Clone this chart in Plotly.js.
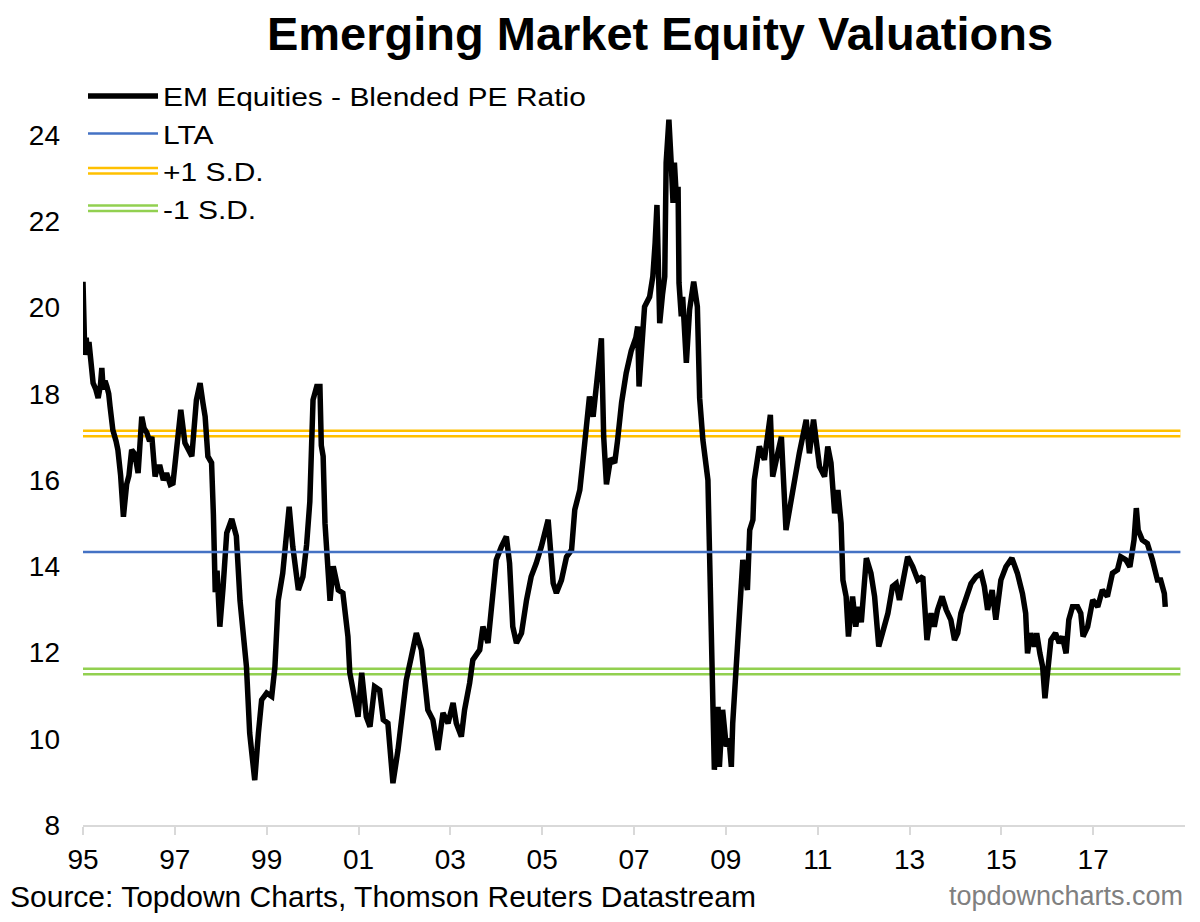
<!DOCTYPE html>
<html>
<head>
<meta charset="utf-8">
<script src="https://cdn.plot.ly/plotly-3.0.1.min.js"></script>
<style>
  html, body { margin: 0; padding: 0; background: #fff; }
  #chart { width: 1200px; height: 922px; }
</style>
</head>
<body>
<div id="chart"></div>
<script>
// ---- Data, decimal years ----
const dates = [
  1995.00, 1995.02, 1995.04, 1995.07, 1995.10, 1995.13, 1995.17, 1995.22, 1995.28, 1995.33, 1995.38, 1995.41, 1995.44, 1995.48, 1995.52, 1995.56, 1995.59, 1995.65, 1995.72, 1995.76, 1995.82, 1995.88, 1995.95,
  1996.00, 1996.06, 1996.13, 1996.20, 1996.28, 1996.33, 1996.39, 1996.45, 1996.50, 1996.57, 1996.62, 1996.68, 1996.75, 1996.82, 1996.90, 1996.96,
  1997.04, 1997.13, 1997.22, 1997.30, 1997.37, 1997.47, 1997.55, 1997.61, 1997.66, 1997.72, 1997.80, 1997.84, 1997.88, 1997.92, 1997.98,
  1998.05, 1998.13, 1998.24, 1998.34, 1998.42, 1998.49, 1998.56, 1998.63, 1998.74, 1998.82, 1998.89,
  1999.00, 1999.11, 1999.18, 1999.25, 1999.35, 1999.43, 1999.49, 1999.57, 1999.69, 1999.79, 1999.87, 1999.94,
  2000.01, 2000.09, 2000.16, 2000.19, 2000.23, 2000.27, 2000.30, 2000.38, 2000.45, 2000.56, 2000.66, 2000.77, 2000.81, 2000.92, 2000.99,
  2001.07, 2001.17, 2001.25, 2001.35, 2001.46, 2001.54, 2001.64, 2001.75, 2001.86, 2001.94,
  2002.04, 2002.15, 2002.26, 2002.37, 2002.44, 2002.51, 2002.62, 2002.73, 2002.84, 2002.95,
  2003.06, 2003.13, 2003.24, 2003.31, 2003.42, 2003.49, 2003.64, 2003.71, 2003.82, 2003.93,
  2004.00, 2004.11, 2004.22, 2004.29, 2004.36, 2004.44, 2004.55, 2004.66, 2004.76, 2004.87, 2004.98,
  2005.13, 2005.24, 2005.31, 2005.42, 2005.53, 2005.64, 2005.71, 2005.82, 2005.89, 2005.96,
  2006.03, 2006.11, 2006.18, 2006.25, 2006.29, 2006.34, 2006.40, 2006.49, 2006.58, 2006.64, 2006.73, 2006.83, 2006.94,
  2007.04, 2007.08, 2007.11, 2007.17, 2007.23, 2007.34, 2007.41, 2007.46, 2007.50, 2007.53, 2007.56, 2007.62, 2007.67, 2007.70, 2007.76, 2007.81, 2007.85, 2007.88, 2007.92, 2007.96, 2007.98,
  2008.03, 2008.06, 2008.14, 2008.21, 2008.30, 2008.38, 2008.43, 2008.50, 2008.61, 2008.65, 2008.68, 2008.75, 2008.83, 2008.86, 2008.93,
  2009.01, 2009.07, 2009.12, 2009.15, 2009.23, 2009.30, 2009.37, 2009.47, 2009.52, 2009.59, 2009.62, 2009.73, 2009.84, 2009.97,
  2010.02, 2010.13, 2010.21, 2010.31, 2010.42, 2010.49, 2010.60, 2010.75, 2010.82, 2010.91,
  2011.04, 2011.15, 2011.22, 2011.29, 2011.37, 2011.44, 2011.51, 2011.55, 2011.62, 2011.67, 2011.76, 2011.83, 2011.89, 2011.95,
  2012.06, 2012.16, 2012.24, 2012.33, 2012.42, 2012.53, 2012.63, 2012.71, 2012.78, 2012.87, 2012.96,
  2013.07, 2013.18, 2013.29, 2013.32, 2013.38, 2013.47, 2013.54, 2013.61, 2013.71, 2013.80, 2013.90, 2013.98,
  2014.05, 2014.12, 2014.23, 2014.34, 2014.45, 2014.56, 2014.63, 2014.70, 2014.80, 2014.88, 2014.99,
  2015.10, 2015.23, 2015.35, 2015.46, 2015.53, 2015.57, 2015.64, 2015.72, 2015.77, 2015.84, 2015.90, 2015.95,
  2016.01, 2016.08, 2016.18, 2016.26, 2016.33, 2016.41, 2016.47, 2016.55, 2016.66, 2016.73, 2016.78, 2016.88, 2016.99,
  2017.10, 2017.20, 2017.31, 2017.42, 2017.53, 2017.60, 2017.71, 2017.80, 2017.89, 2017.94, 2017.98,
  2018.07, 2018.18, 2018.29, 2018.40, 2018.47, 2018.55, 2018.57
];
const blendedPE = [
  20.6, 19.9, 18.9, 19.3, 18.9, 19.2, 18.8, 18.25, 18.1, 17.9, 18.2, 18.6, 18.1, 18.3, 18.17, 18.0, 17.7, 17.16, 16.9, 16.7, 16.1, 15.15, 15.9,
  16.1, 16.7, 16.6, 16.16, 17.47, 17.2, 17.1, 16.9, 17.0, 16.08, 16.3, 16.3, 16.0, 16.16, 15.9, 15.93,
  16.86, 17.63, 16.86, 16.7, 16.55, 17.86, 18.25, 17.8, 17.47, 16.55, 16.4, 15.2, 13.4, 13.9, 12.6,
  13.5, 14.77, 15.1, 14.7, 13.2, 12.3, 11.67, 10.13, 9.04, 10.13, 10.9,
  11.06, 10.98, 11.67, 13.2, 13.84, 14.77, 15.38, 14.45, 13.45, 13.76, 14.5, 15.5,
  17.86, 18.17, 18.17, 16.8, 16.55, 15.0, 14.38, 13.2, 14.0, 13.45, 13.38, 12.37, 11.53, 10.83, 10.51,
  11.53, 10.51, 10.28, 11.21, 11.13, 10.44, 10.36, 8.97, 9.74, 10.51,
  11.36, 11.9, 12.45, 12.06, 11.36, 10.67, 10.44, 9.74, 10.6, 10.36,
  10.83, 10.36, 10.05, 10.67, 11.29, 11.83, 12.06, 12.6, 12.22, 13.61,
  14.15, 14.45, 14.69, 14.07, 12.6, 12.22, 12.45, 13.22, 13.76, 14.07, 14.45,
  15.08, 13.61, 13.38, 13.68, 14.22, 14.38, 15.31, 15.77, 16.47, 17.32,
  17.94, 17.47, 18.17, 18.8, 19.29, 17.0, 15.9, 16.5, 16.4, 16.9, 17.8, 18.48, 19.0,
  19.3, 19.56, 18.17, 19.4, 20.02, 20.25, 20.72, 21.5, 22.38, 21.0, 19.64, 20.3, 20.72, 23.36, 24.36, 23.36, 22.43, 23.36, 22.6, 22.8, 20.57,
  19.8, 20.25, 18.72, 19.95, 20.6, 20.02, 17.9, 16.93, 16.0, 13.99, 11.67, 9.28, 10.74, 9.35, 10.67,
  9.82, 10.0, 9.35, 10.36, 11.83, 13.22, 14.15, 13.45, 14.84, 15.08, 16.0, 16.78, 16.47, 17.51,
  16.08, 16.62, 17.0, 14.84, 15.54, 15.85, 16.62, 17.4, 16.62, 17.4,
  16.31, 16.08, 16.78, 16.4, 15.23, 15.77, 15.0, 13.68, 13.3, 12.37, 13.3, 12.6, 13.06, 12.7,
  14.19, 13.84, 13.3, 12.14, 12.52, 12.91, 13.53, 13.6, 13.22, 13.76, 14.22,
  13.99, 13.68, 13.76, 13.37, 12.29, 12.91, 12.6, 12.99, 13.3, 12.99, 12.76, 12.29,
  12.45, 12.91, 13.22, 13.6, 13.76, 13.84, 13.53, 12.99, 13.45, 12.76, 13.68,
  13.99, 14.19, 13.84, 13.37, 12.91, 11.98, 12.45, 12.14, 12.45, 11.98, 11.67, 10.94,
  11.52, 12.29, 12.45, 12.22, 12.37, 11.98, 12.76, 13.06, 13.06, 12.91, 12.37, 12.6, 13.22,
  13.06, 13.45, 13.3, 13.84, 13.92, 14.22, 14.15, 13.99, 14.61, 15.35, 14.84,
  14.61, 14.53, 14.15, 13.68, 13.68, 13.37, 13.06
];
// Reference levels (long-term average and +/- 1 standard deviation)
const bandSpan = [1995.0, 2018.9];
const ltaLevel = [14.33, 14.33];
const plusSD   = [17.08, 17.08];
const minusSD  = [11.56, 11.56];
// Axis ticks
const xTickVals  = [1995, 1997, 1999, 2001, 2003, 2005, 2007, 2009, 2011, 2013, 2015, 2017];
const xTickText  = ['95', '97', '99', '01', '03', '05', '07', '09', '11', '13', '15', '17'];
const yTickVals  = [8, 10, 12, 14, 16, 18, 20, 22, 24];

const FONT = 'Liberation Sans, Arial, sans-serif';

const traces = [
  { x: bandSpan, y: plusSD, mode: 'lines', name: '+1 S.D.', legendrank: 3,
    line: { color: '#FFC000', width: 8 }, hoverinfo: 'skip' },
  { x: bandSpan, y: plusSD, mode: 'lines', showlegend: false,
    line: { color: '#ffffff', width: 3 }, hoverinfo: 'skip' },
  { x: bandSpan, y: minusSD, mode: 'lines', name: '-1 S.D.', legendrank: 4,
    line: { color: '#92D050', width: 8 }, hoverinfo: 'skip' },
  { x: bandSpan, y: minusSD, mode: 'lines', showlegend: false,
    line: { color: '#ffffff', width: 3 }, hoverinfo: 'skip' },
  { x: dates, y: blendedPE, mode: 'lines', name: 'EM Equities - Blended PE Ratio', legendrank: 1,
    line: { color: '#000000', width: 5.5, shape: 'linear' } },
  { x: bandSpan, y: ltaLevel, mode: 'lines', name: 'LTA', legendrank: 2,
    line: { color: '#4472C4', width: 2.5 }, hoverinfo: 'skip' }
];

const layout = {
  width: 1200, height: 922,
  paper_bgcolor: '#ffffff', plot_bgcolor: '#ffffff',
  margin: { l: 83, r: 15, t: 92, b: 97 },
  font: { family: FONT, color: '#000000' },
  title: {
    text: 'Emerging Market Equity Valuations',
    font: { family: FONT, size: 47, color: '#000000', weight: 'bold' },
    xref: 'container', x: 0.55, xanchor: 'center',
    yref: 'container', y: 0.964, yanchor: 'middle'
  },
  showlegend: true,
  legend: {
    x: 0.0, xanchor: 'left', y: 1.027, yanchor: 'top',
    bgcolor: 'rgba(0,0,0,0)', borderwidth: 0,
    font: { family: FONT, size: 26.5, color: '#000000' },
    itemwidth: 70, tracegroupgap: 0
  },
  xaxis: {
    range: [1995, 2019],
    tickmode: 'array', tickvals: xTickVals, ticktext: xTickText,
    ticks: 'outside', ticklen: 8, tickwidth: 2, tickcolor: '#d9d9d9',
    showline: true, linecolor: '#d9d9d9', linewidth: 2,
    showgrid: false, zeroline: false,
    tickfont: { family: FONT, size: 28, color: '#000000' }
  },
  yaxis: {
    range: [8, 25],
    tickmode: 'array', tickvals: yTickVals,
    ticks: '', showline: false, showgrid: false, zeroline: false,
    ticklabelstandoff: 22,
    tickfont: { family: FONT, size: 28, color: '#000000' }
  },
  annotations: [
    { xref: 'paper', yref: 'paper', x: -0.068, y: -0.0975, xanchor: 'left', yanchor: 'middle',
      text: 'Source: Topdown Charts, Thomson Reuters Datastream', showarrow: false,
      font: { family: FONT, size: 30, color: '#000000' } },
    { xref: 'paper', yref: 'paper', x: 1.0, y: -0.0975, xanchor: 'right', yanchor: 'middle',
      text: 'topdowncharts.com', showarrow: false,
      font: { family: FONT, size: 27, color: '#808080' } }
  ]
};

Plotly.newPlot('chart', traces, layout, { displayModeBar: false, staticPlot: true }).then(function (gd) {
  // let the (slightly widened) legend text run past Plotly's legend clip box
  gd.querySelectorAll('.legend [clip-path]').forEach(function (el) { el.removeAttribute('clip-path'); });
  gd.querySelectorAll('.legend .traces').forEach(function (g) {
    const txt = g.querySelector('.legendtext');
    if (!txt) return;
    // the reference legend lettering is a little wider than plain Arial
    const w = txt.getComputedTextLength();
    txt.setAttribute('textLength', (w * 1.13).toFixed(1));
    txt.setAttribute('lengthAdjust', 'spacingAndGlyphs');
    // give the S.D. legend symbols their hollow (double-line) look
    const t = txt.textContent;
    if (t === '+1 S.D.' || t === '-1 S.D.') {
      const p = g.querySelector('.legendlines path');
      if (p) {
        const c = p.cloneNode(true);
        c.style.stroke = '#ffffff';
        c.style.strokeWidth = '3px';
        p.parentNode.appendChild(c);
      }
    }
  });
});
</script>
</body>
</html>
